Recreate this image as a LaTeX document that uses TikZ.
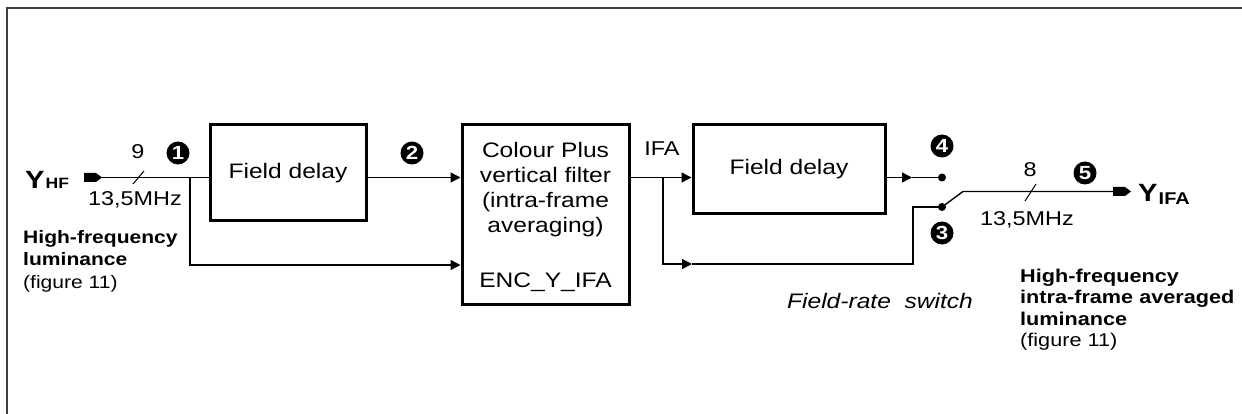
\documentclass[tikz,border=0pt]{standalone}
\usepackage{fontspec}
\setmainfont{Liberation Sans}[FakeStretch=1.17]
\usetikzlibrary{arrows.meta}
\begin{document}
\begin{tikzpicture}[x=1pt,y=-1pt,
  ln/.style={line width=1.4pt},
  blk/.style={draw, line width=3pt, inner sep=0pt, font=\fontsize{21}{25}\selectfont},
  arr/.style={line width=1.4pt, -{Triangle[length=10pt,width=10pt]}},
  num/.style={circle, fill=black, text=white, inner sep=0pt, minimum size=23pt, font=\fontsize{19}{19}\selectfont\bfseries},
  dot/.style={circle, fill=black, inner sep=0pt, minimum size=8pt},
  lbl/.style={font=\fontsize{20}{24}\selectfont, inner sep=0pt},
  note/.style={align=left, inner sep=0pt},
  term/.style={fill=black},
]
\useasboundingbox (0,0) rectangle (1242,414);
\draw[line width=2pt, black!75] (7,414) -- (7,8) -- (1242,8);

% input side
\node[anchor=base west, inner sep=0pt] (yhf) at (25,189)
  {\bfseries\fontsize{25}{25}\selectfont Y\kern1pt\fontsize{15}{15}\selectfont HF};
\coordinate (tin) at (102,177.5);
\fill[term] (tin) -- ++(-6,-4.5) -- ++(-12,0) -- ++(0,9) -- ++(12,0) -- cycle;
\coordinate (b1) at (190,177.5);
\coordinate (b1low) at (190,265);
\node[lbl] (n9) at (138,152) {9};
\node[lbl] (mhz1) at (135,200) {13,5MHz};
\draw[line width=1pt] (133,184) -- (144,171);
\node[num] (c1) at (178,153) {1};
\node[num] (c2) at (412,153) {2};
\node[note, anchor=base west, font=\fontsize{18}{22.5}\selectfont] (innote) at (23,288)
  {\textbf{High-frequency}\\\textbf{luminance}\\(figure 11)};

% boxes
\node[blk, minimum width=156pt, minimum height=96pt] (fd1) at (288,173) {Field delay};
\node[blk, minimum width=167pt, minimum height=179pt] (cp) at (545.5,214.5) {};
\node[anchor=base, align=center, inner sep=0pt, font=\fontsize{21}{25}\selectfont] (cpt) at (545.5,233)
  {Colour Plus\\vertical filter\\(intra-frame\\averaging)};
\node[anchor=base, inner sep=0pt, font=\fontsize{21}{25}\selectfont] (cpb) at (545.5,287) {ENC\_Y\_IFA};
\node[blk, minimum width=192pt, minimum height=89pt] (fd2) at (789,169.5) {Field delay};

\draw[ln] (tin) -- (tin -| fd1.west);
\draw[arr] (b1) -- (b1low) -- (cp.west |- b1low);
\draw[arr] (fd1.east |- tin) -- (cp.west |- tin);

% IFA side
\node[lbl] (ifa) at (662,149) {IFA};
\coordinate (b2) at (663,177.5);
\coordinate (b2low) at (663,264);
\coordinate (arrlow) at (692,264);
\coordinate (bend) at (913,264);
\node[dot] (d3) at (942,207) {};
\node[dot] (d4) at (942,177.5) {};
\draw[arr] (cp.east |- b2) -- (fd2.west |- b2);
\draw[arr] (b2) -- (b2low) -- (arrlow);
\draw[ln] (arrlow) -- (bend) |- (d3.center);
\coordinate (a4) at (912,177.5);
\draw[arr] (fd2.east |- d4) -- (a4);
\draw[ln] (a4) -- (d4.center);
\node[num] (c4) at (942,146) {4};
\node[num] (c3) at (942,233) {3};

% switch and output
\coordinate (sw) at (963,191.5);
\coordinate (tout) at (1113,191.5);
\draw[ln] (d3.center) -- (sw) -- (tout);
\fill[term] (tout) ++(0,-4.5) -- ++(12,0) -- ++(6,4.5) -- ++(-6,4.5) -- ++(-12,0) -- cycle;
\draw[line width=1pt] (1025,201) -- (1036,184);
\node[lbl] (n8) at (1030,170) {8};
\node[lbl] (mhz2) at (1027,220) {13,5MHz};
\node[num] (c5) at (1085,173) {5};
\node[anchor=base west, inner sep=0pt] (yifa) at (1138,202)
  {\bfseries\fontsize{25}{25}\selectfont Y\kern1pt\raisebox{-3pt}{\fontsize{17}{17}\selectfont IFA}};
\node[inner sep=0pt, font=\fontsize{21}{25}\selectfont\itshape] (frs) at (880,301) {Field-rate\ \ switch};
\node[note, anchor=base west, font=\fontsize{18.5}{21.5}\selectfont] (outnote) at (1020,346.5)
  {\textbf{High-frequency}\\\textbf{intra-frame averaged}\\\textbf{luminance}\\(figure 11)};
\end{tikzpicture}
\end{document}
